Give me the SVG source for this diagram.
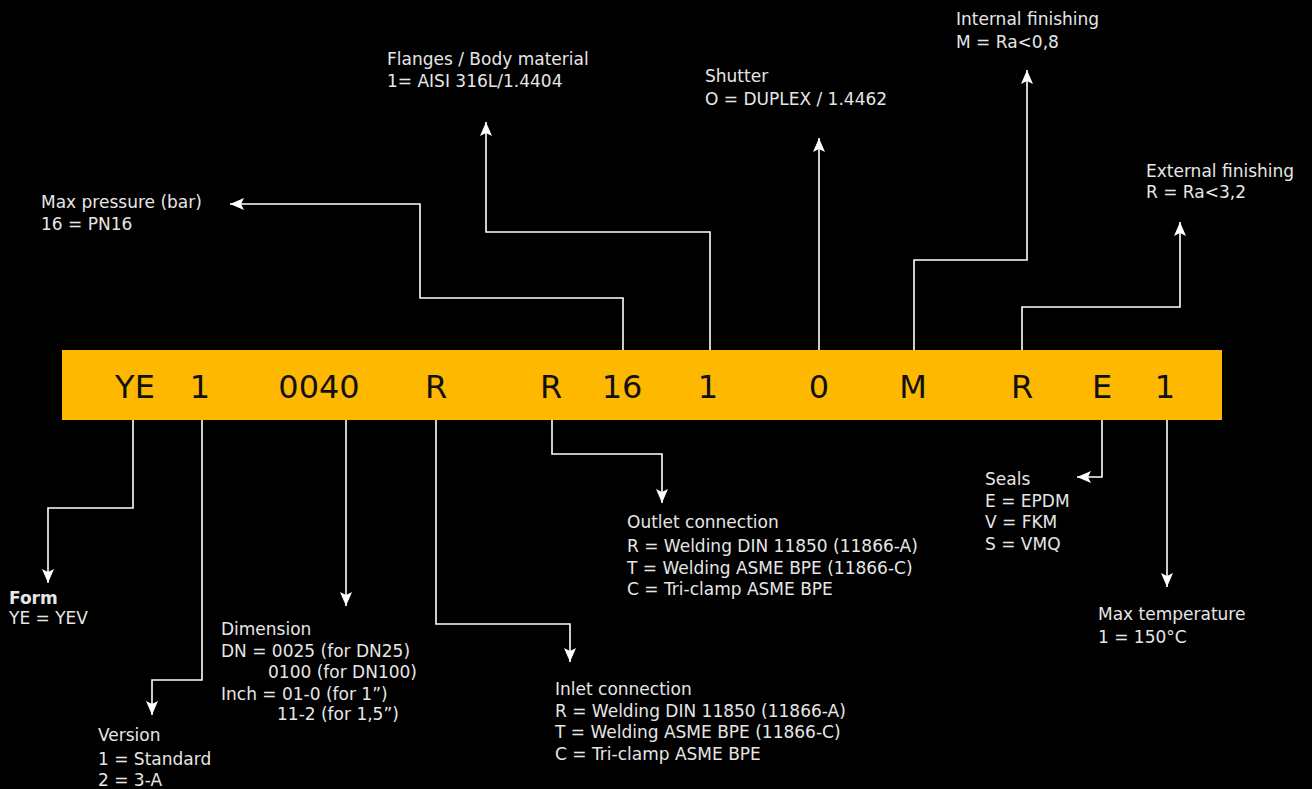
<svg xmlns="http://www.w3.org/2000/svg" width="1312" height="789" viewBox="0 0 1312 789">
<style>
.lbl{font-family:"DejaVu Sans","Liberation Sans",sans-serif;font-size:17px;fill:#e6e6e6}
.b{font-weight:bold}
.code{font-family:"DejaVu Sans","Liberation Sans",sans-serif;font-size:32px;fill:#111;text-anchor:middle}
.ln{fill:none;stroke:#ffffff;stroke-width:1.6;marker-end:url(#ah)}
</style>
<defs>
<marker id="ah" viewBox="0 0 14 12" refX="14" refY="6" markerWidth="14" markerHeight="12" markerUnits="userSpaceOnUse" orient="auto">
<path d="M0,0 L14,6 L0,12 L3,6 z" fill="#ffffff"/>
</marker>
</defs>
<rect x="0" y="0" width="1312" height="789" fill="#000"/>
<g id="bar">
<rect x="62" y="350" width="1160" height="70" fill="#FFB800"/>
<text class="code" x="135" y="398">YE</text>
<text class="code" x="200" y="398">1</text>
<text class="code" x="319" y="398">0040</text>
<text class="code" x="436" y="398">R</text>
<text class="code" x="551" y="398">R</text>
<text class="code" x="622" y="398">16</text>
<text class="code" x="708" y="398">1</text>
<text class="code" x="819" y="398">0</text>
<text class="code" x="913" y="398">M</text>
<text class="code" x="1022" y="398">R</text>
<text class="code" x="1102" y="398">E</text>
<text class="code" x="1165" y="398">1</text>
</g>
<g id="connectors">
<polyline class="ln" points="623,350 623,298 420,298 420,204 230,204"/>
<polyline class="ln" points="710,350 710,232 486,232 486,122"/>
<polyline class="ln" points="819,350 819,138"/>
<polyline class="ln" points="914,350 914,260 1027,260 1027,70"/>
<polyline class="ln" points="1022,350 1022,307 1180,307 1180,222"/>
<polyline class="ln" points="133,420 133,508 48,508 48,583"/>
<polyline class="ln" points="202,420 202,680 152,680 152,715"/>
<polyline class="ln" points="346,420 346,606"/>
<polyline class="ln" points="436,420 436,624 570,624 570,662"/>
<polyline class="ln" points="552,420 552,454 662,454 662,503"/>
<polyline class="ln" points="1102,420 1102,477 1077,477"/>
<polyline class="ln" points="1167,420 1167,587"/>
</g>
<g id="max-pressure">
<text class="lbl" x="41" y="208">Max pressure (bar)</text>
<text class="lbl" x="41" y="230">16 = PN16</text>
</g>
<g id="flanges">
<text class="lbl" x="387" y="65">Flanges / Body material</text>
<text class="lbl" x="387" y="87">1= AISI 316L/1.4404</text>
</g>
<g id="shutter">
<text class="lbl" x="705" y="82">Shutter</text>
<text class="lbl" x="705" y="105">O = DUPLEX / 1.4462</text>
</g>
<g id="internal-finishing">
<text class="lbl" x="956" y="25">Internal finishing</text>
<text class="lbl" x="956" y="48">M = Ra&lt;0,8</text>
</g>
<g id="external-finishing">
<text class="lbl" x="1146" y="177">External finishing</text>
<text class="lbl" x="1146" y="198">R = Ra&lt;3,2</text>
</g>
<g id="form">
<text class="lbl b" x="9" y="604">Form</text>
<text class="lbl" x="9" y="624">YE = YEV</text>
</g>
<g id="version">
<text class="lbl" x="98" y="741">Version</text>
<text class="lbl" x="98" y="765">1 = Standard</text>
<text class="lbl" x="98" y="786">2 = 3-A</text>
</g>
<g id="dimension">
<text class="lbl" x="221" y="635">Dimension</text>
<text class="lbl" x="221" y="657">DN = 0025 (for DN25)</text>
<text class="lbl" x="268" y="678">0100 (for DN100)</text>
<text class="lbl" x="221" y="700">Inch = 01-0 (for 1”)</text>
<text class="lbl" x="277" y="720">11-2 (for 1,5”)</text>
</g>
<g id="inlet">
<text class="lbl" x="555" y="695">Inlet connection</text>
<text class="lbl" x="555" y="717">R = Welding DIN 11850 (11866-A)</text>
<text class="lbl" x="555" y="738">T = Welding ASME BPE (11866-C)</text>
<text class="lbl" x="555" y="760">C = Tri-clamp ASME BPE</text>
</g>
<g id="outlet">
<text class="lbl" x="627" y="528">Outlet connection</text>
<text class="lbl" x="627" y="552">R = Welding DIN 11850 (11866-A)</text>
<text class="lbl" x="627" y="574">T = Welding ASME BPE (11866-C)</text>
<text class="lbl" x="627" y="595">C = Tri-clamp ASME BPE</text>
</g>
<g id="seals">
<text class="lbl" x="985" y="485">Seals</text>
<text class="lbl" x="985" y="507">E = EPDM</text>
<text class="lbl" x="985" y="528">V = FKM</text>
<text class="lbl" x="985" y="550">S = VMQ</text>
</g>
<g id="max-temperature">
<text class="lbl" x="1098" y="620">Max temperature</text>
<text class="lbl" x="1098" y="643">1 = 150°C</text>
</g>
</svg>
